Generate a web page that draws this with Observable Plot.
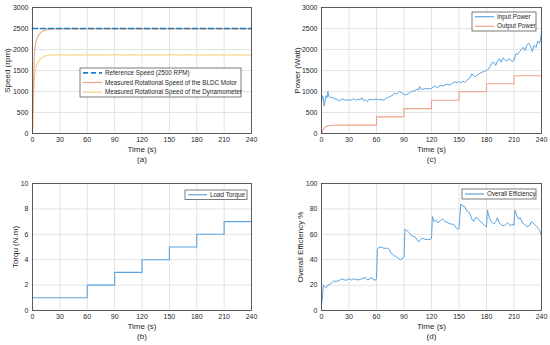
<!DOCTYPE html>
<html>
<head>
<meta charset="utf-8">
<script src="https://cdn.jsdelivr.net/npm/d3@7"></script>
<script src="https://cdn.jsdelivr.net/npm/@observablehq/plot@0.6"></script>
<style>
  html, body { margin: 0; padding: 0; background: #fff; }
  #wrap { position: relative; width: 550px; height: 345px; background: #fff; overflow: hidden; }
  #wrap > svg { position: absolute; }
</style>
</head>
<body>
<div id="wrap"></div>
<script>
// ---------- data ----------
const timeTicks = [0, 30, 60, 90, 120, 150, 180, 210, 240];

// (a) speed
const speedTicks = [0, 500, 1000, 1500, 2000, 2500, 3000];
const refTime = [0, 240];
const refSpeed = [2500, 2500];
const speedTime = [0,1,2,3,4,5,6,8,10,12,15,18,20,25,30,40,50,60,70,80,90,100,110,120,130,140,150,160,170,180,190,200,210,220,230,240];
const motorSpeed = [0,1100,1900,2100,2200,2270,2320,2380,2420,2450,2470,2480,2485,2487,2488,2490,2487,2489,2488,2490,2487,2489,2488,2490,2488,2487,2489,2488,2490,2487,2489,2488,2490,2487,2489,2488];
const dynoSpeed = [0,800,1300,1500,1600,1660,1700,1760,1800,1830,1852,1863,1868,1870,1872,1870,1871,1869,1872,1870,1871,1869,1872,1870,1871,1869,1872,1870,1871,1869,1870,1871,1869,1872,1870,1870];

// (b) torque
const torqueTicks = [0, 2, 4, 6, 8, 10];
const torqueTime = [0, 60, 90, 120, 150, 180, 210, 240];
const torque = [1, 2, 3, 4, 5, 6, 7, 7];

// (c) power
const powerTicks = [0, 500, 1000, 1500, 2000, 2500, 3000];
const inputTime = [0,1,2,3,4,5,6,7,8,10,12,14,16,18,20,22,25,27,30,32,35,37,40,42,44,46,48,50,52,55,57,60,62,65,68,70,72,75,78,80,82,85,88,90,92,95,98,100,102,104,106,107,109,112,115,118,120,122,124,126,128,130,132,135,138,140,143,146,148,150,152,154,156,158,160,162,164,166,168,170,172,175,178,180,182,184,186,188,190,192,194,196,198,200,202,204,206,208,210,212,214,216,218,220,222,224,226,228,230,232,234,236,238,239,240];
const inputPower = [750,900,850,650,800,900,850,1000,880,850,870,820,830,790,780,820,800,790,810,790,830,790,820,800,850,780,800,760,820,800,810,820,800,810,790,830,850,880,920,960,940,1000,960,930,920,950,1000,1010,1020,1060,1030,1120,1050,1060,1070,1060,1080,1100,1140,1090,1120,1150,1130,1160,1180,1150,1200,1230,1210,1240,1200,1250,1220,1250,1300,1320,1420,1380,1350,1400,1420,1460,1480,1500,1530,1600,1680,1700,1620,1720,1780,1700,1800,1750,1720,1780,1750,1720,1740,1900,1880,1950,2000,2050,1980,2100,2150,2080,1950,2100,2050,2200,2150,2250,2400];
const outputTime = [0,1,2,3,4,5,6,8,10,12,15,20,30,40,50,60,60,90,90,120,120,150,150,180,180,210,210,240];
const outputPower = [0,60,100,130,150,165,175,185,192,196,198,200,200,200,200,200,395,395,592,592,790,790,995,995,1185,1185,1375,1375];

// (d) efficiency
const effTicks = [0, 20, 40, 60, 80, 100];
const effTime = [0,1,2,3,5,7,10,13,17,20,22,25,28,30,33,36,40,44,48,50,53,55,57,59,60,61,62,65,68,72,74,76,78,80,82,84,86,88,89,90,91,93,96,98,102,104,106,108,110,113,116,119,120,121,123,125,127,130,132,135,138,141,144,147,149,150,152,154,156,158,160,162,164,166,168,170,172,175,178,180,181,183,185,188,190,192,194,197,200,203,206,209,210,211,213,215,217,219,221,224,227,229,232,235,238,240];
const efficiency = [5,10,20,19,18,20,21,23,23,24,25,24,24,25,24,25,24,25,26,24,25,26,24,24,25,48,49.5,50,49,49,48,45,44,43,42,41,40,41,41,42,64,63,61,59,58,56,54,56,57,56,56,56,57,74,70,71,69,71,72,70,69,68,68,65,64,65,84,82,82,79,78,76,72,70,73,73,71,69,67,66,79,73,70,68,70,73,69,67,67,69,67,68,67,79,75,72,73,69,68,66,67,70,68,66,63,59];

// ---------- helpers ----------
const C_BLUE = "#5BA4E0", C_REF = "#1F7CC9", C_ORANGE = "#EFA388", C_YELLOW = "#F7D27A";
const FONT = "'Liberation Sans', Arial, sans-serif";
const zip = (xs, ys) => xs.map((x, i) => ({x, y: ys[i]}));

function panel({left, top, width, height, mt, mr, mb, ml, yTicks, yLabel, yLabelDx, tag, marks}) {
  const svg = Plot.plot({
    width, height,
    marginTop: mt, marginRight: mr, marginBottom: mb, marginLeft: ml,
    style: {fontFamily: FONT, fontSize: "7px", color: "#262626", background: "transparent", overflow: "visible"},
    x: {domain: [0, 240]},
    y: {domain: [yTicks[0], yTicks[yTicks.length - 1]]},
    marks: [
      Plot.gridX(timeTicks, {stroke: "#e3e3e3", strokeOpacity: 1}),
      Plot.gridY(yTicks, {stroke: "#e3e3e3", strokeOpacity: 1}),
      ...marks,
      Plot.frame({stroke: "#3a3a3a", strokeWidth: 0.8}),
      Plot.axisX(timeTicks, {tickSize: 0, tickPadding: 4, label: null, fontSize: 7, tickFormat: d3.format("d")}),
      Plot.axisY(yTicks, {tickSize: 0, tickPadding: 4, label: null, fontSize: 7, tickFormat: d3.format("d")}),
      Plot.text(["Time (s)"], {text: d => d, frameAnchor: "bottom", dy: 18, fontSize: 8}),
      Plot.text([tag], {text: d => d, frameAnchor: "bottom", dy: 28, fontSize: 8}),
      Plot.text([yLabel], {text: d => d, frameAnchor: "left", textAnchor: "middle", dx: yLabelDx, rotate: -90, fontSize: 8})
    ]
  });
  svg.style.left = left + "px";
  svg.style.top = top + "px";
  document.getElementById("wrap").appendChild(svg);
  return svg;
}

function legend(svg, {x, y, w, h, items, fontSize = 6.3, lineLen = 19}) {
  const g = d3.select(svg).append("g").attr("font-family", FONT).attr("font-size", fontSize)
    .attr("text-anchor", "start");
  g.append("rect").attr("x", x).attr("y", y).attr("width", w).attr("height", h)
    .attr("fill", "white").attr("stroke", "#444").attr("stroke-width", 0.7);
  const step = h / items.length;
  items.forEach((it, i) => {
    const cy = y + step * (i + 0.5);
    g.append("line").attr("x1", x + 3).attr("x2", x + 3 + lineLen).attr("y1", cy).attr("y2", cy)
      .attr("stroke", it.color).attr("stroke-width", it.width || 1.2)
      .attr("stroke-dasharray", it.dash || null);
    g.append("text").attr("x", x + lineLen + 6).attr("y", cy).attr("dy", "0.35em")
      .attr("text-anchor", "start").attr("fill", "#262626").text(it.label);
  });
}

// ---------- (a) speed ----------
const svgA = panel({
  left: 0, top: 0, width: 275, height: 172, mt: 7, mr: 24, mb: 39, ml: 32,
  yTicks: speedTicks, yLabel: "Speed (rpm)", yLabelDx: -25, tag: "(a)",
  marks: [
    Plot.line(zip(speedTime, dynoSpeed), {x: "x", y: "y", stroke: C_YELLOW, strokeWidth: 1.1}),
    Plot.line(zip(speedTime, motorSpeed), {x: "x", y: "y", stroke: C_ORANGE, strokeWidth: 1.1}),
    Plot.line(zip(refTime, refSpeed), {x: "x", y: "y", stroke: C_REF, strokeWidth: 1.6, strokeDasharray: "5,3"})
  ]
});
legend(svgA, {x: 80, y: 68, w: 161, h: 29, items: [
  {label: "Reference Speed (2500 RPM)", color: C_REF, dash: "5,3", width: 1.6},
  {label: "Measured Rotational Speed of the BLDC Motor", color: C_ORANGE},
  {label: "Measured Rotational Speed of the Dynamometer", color: C_YELLOW}
]});

// ---------- (c) power ----------
const svgC = panel({
  left: 275, top: 0, width: 275, height: 172, mt: 7, mr: 9, mb: 39, ml: 46,
  yTicks: powerTicks, yLabel: "Power (Watt)", yLabelDx: -24, tag: "(c)",
  marks: [
    Plot.line(zip(outputTime, outputPower), {x: "x", y: "y", stroke: C_ORANGE, strokeWidth: 1.1}),
    Plot.line(zip(inputTime, inputPower), {x: "x", y: "y", stroke: C_BLUE, strokeWidth: 1})
  ]
});
legend(svgC, {x: 197, y: 12, w: 64, h: 19, items: [
  {label: "Input Power", color: C_BLUE},
  {label: "Output Power", color: C_ORANGE}
]});

// ---------- (b) torque ----------
const svgB = panel({
  left: 0, top: 172, width: 275, height: 173, mt: 11, mr: 24, mb: 35, ml: 32,
  yTicks: torqueTicks, yLabel: "Torqu (N.m)", yLabelDx: -17, tag: "(b)",
  marks: [
    Plot.line(zip(torqueTime, torque), {x: "x", y: "y", stroke: C_BLUE, strokeWidth: 1.1, curve: "step-after"})
  ]
});
legend(svgB, {x: 185, y: 18, w: 62, h: 9.5, items: [
  {label: "Load Torque", color: C_BLUE}
]});

// ---------- (d) efficiency ----------
const svgD = panel({
  left: 275, top: 172, width: 275, height: 173, mt: 11, mr: 9, mb: 35, ml: 46,
  yTicks: effTicks, yLabel: "Overall Efficiency %", yLabelDx: -21, tag: "(d)",
  marks: [
    Plot.line(zip(effTime, efficiency), {x: "x", y: "y", stroke: C_BLUE, strokeWidth: 1})
  ]
});
legend(svgD, {x: 187, y: 17, w: 74, h: 10, items: [
  {label: "Overall Efficiency", color: C_BLUE}
]});
</script>
</body>
</html>
